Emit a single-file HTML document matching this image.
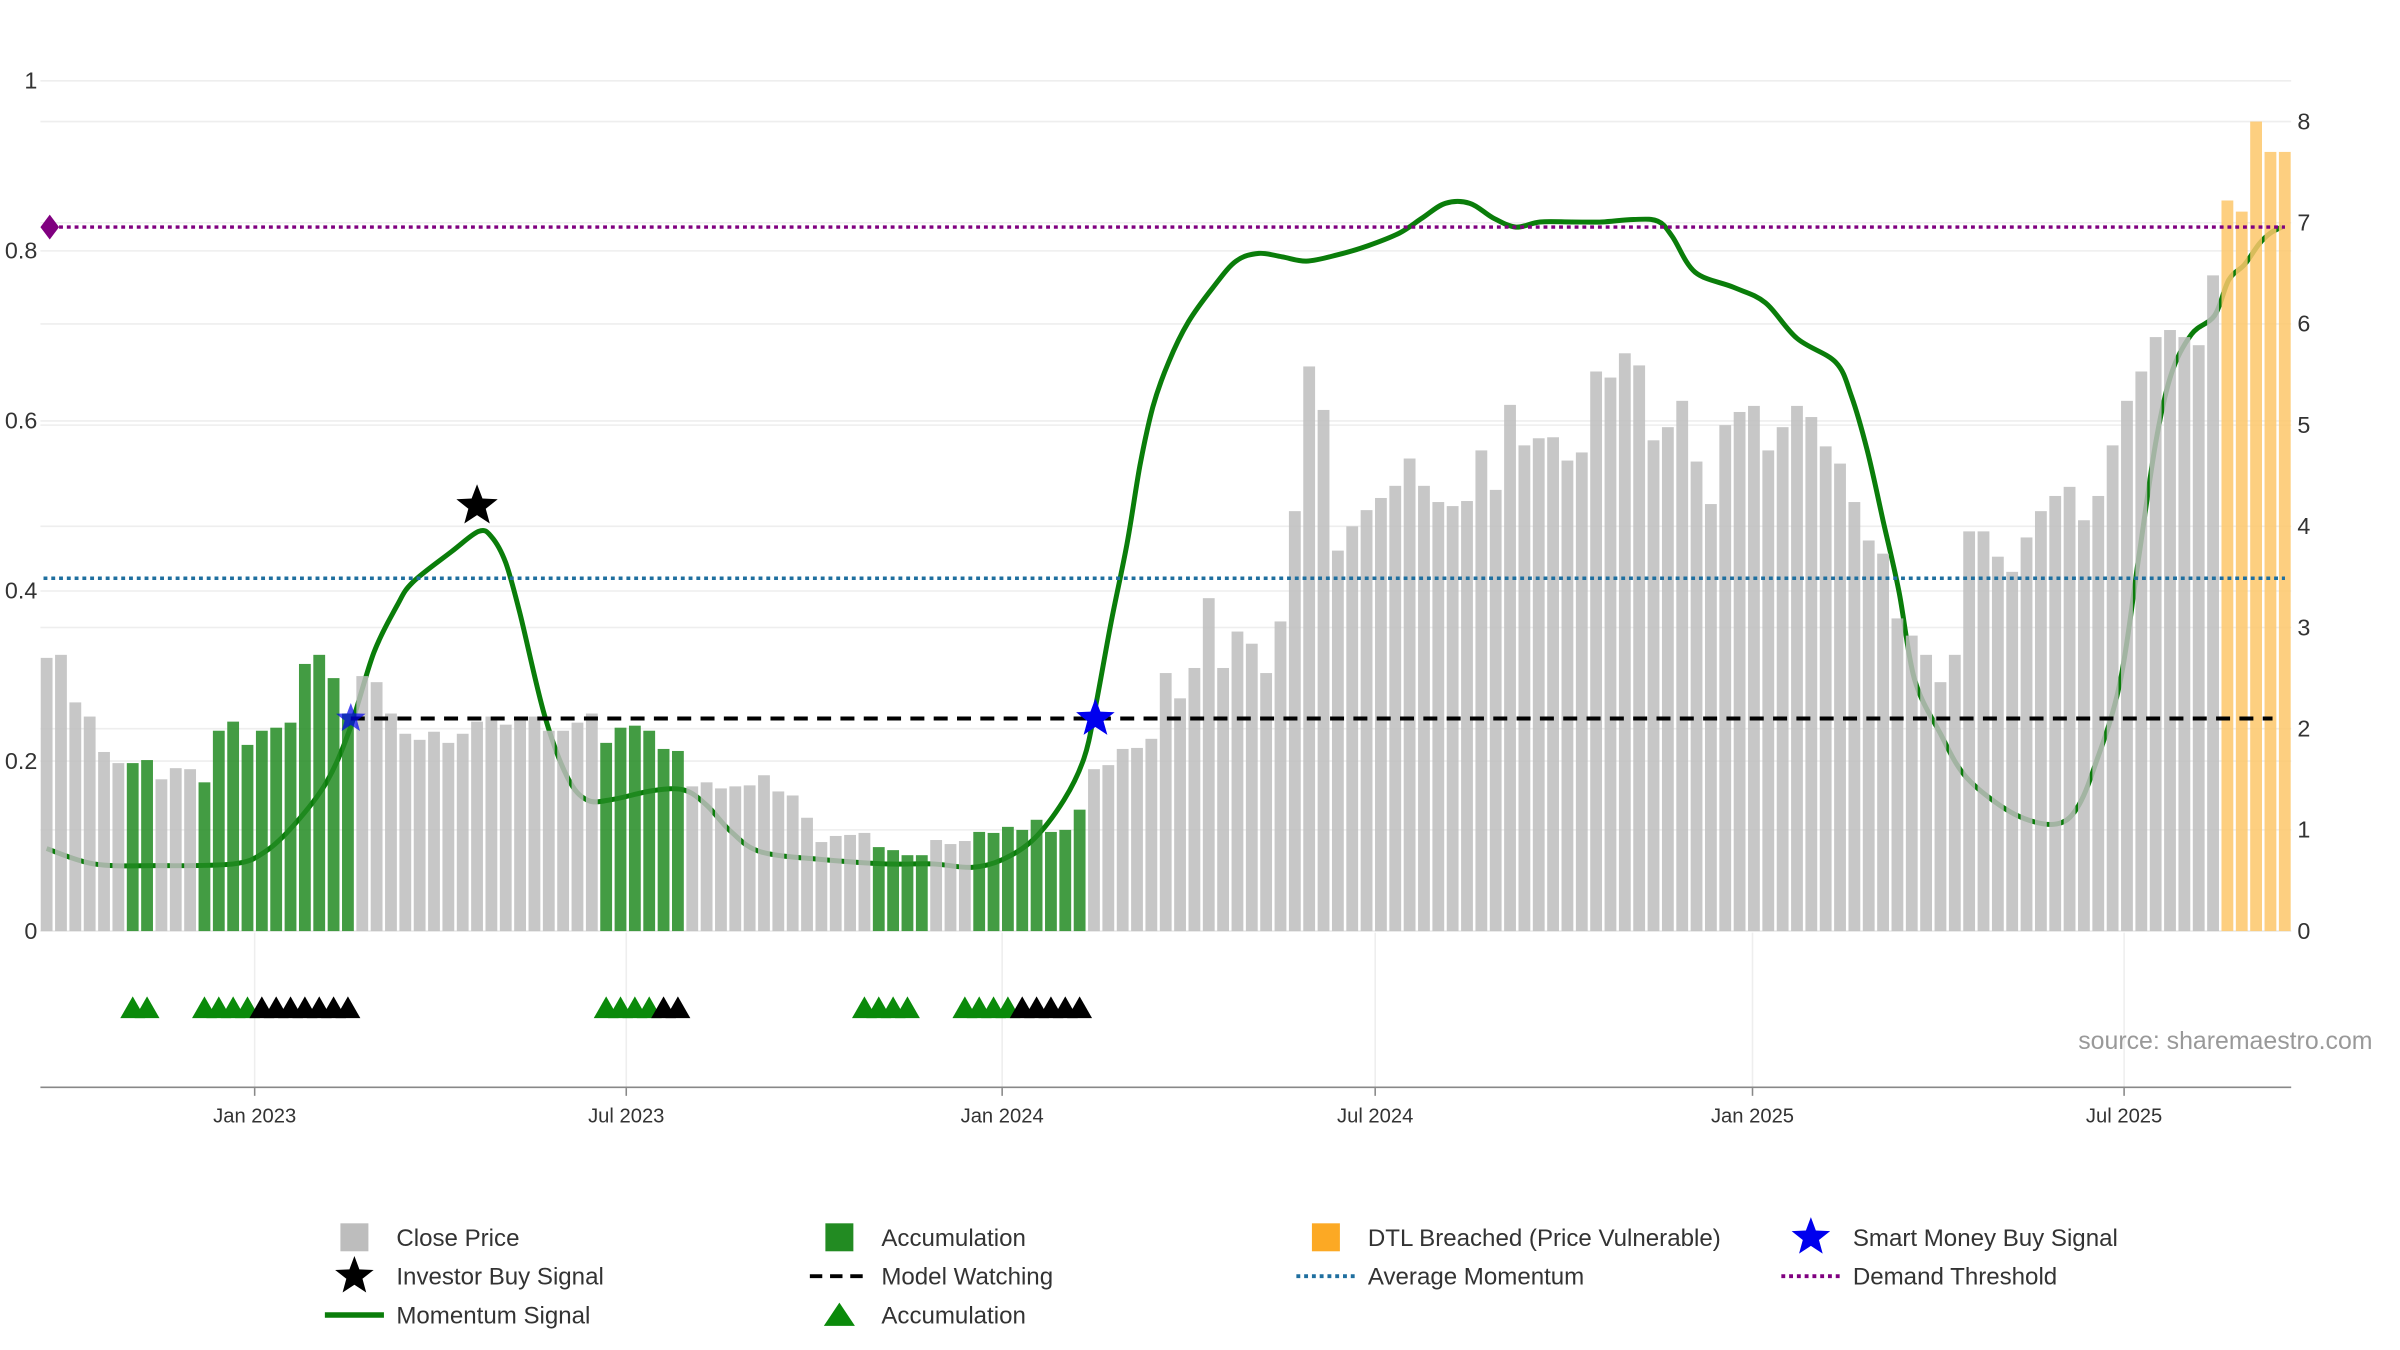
<!DOCTYPE html>
<html><head><meta charset="utf-8"><style>
html,body{margin:0;padding:0;background:#fff;}
svg{display:block;font-family:"Liberation Sans","DejaVu Sans",sans-serif;}
</style></head><body>
<svg id="chart" width="2400" height="1350" viewBox="0 0 1544 868.5" preserveAspectRatio="none" xmlns="http://www.w3.org/2000/svg">
<g id="grid"></g>
<g id="lines"></g>
<g id="bars"></g>
<g id="refs"></g>
<g id="marks"></g>
<g id="axes"></g>
<text x="1337" y="675" font-size="16" fill="#999">source: sharemaestro.com</text>
<g id="legend" font-size="15.5" fill="#333"></g>
</svg>
<script>
const prices=[2.7,2.73,2.26,2.12,1.77,1.66,1.66,1.69,1.5,1.61,1.6,1.47,1.98,2.07,1.84,1.98,2.01,2.06,2.64,2.73,2.5,2.15,2.52,2.46,2.15,1.95,1.89,1.97,1.86,1.95,2.07,2.12,2.04,2.09,2.12,1.98,1.98,2.06,2.15,1.86,2.01,2.03,1.98,1.8,1.78,1.43,1.47,1.41,1.43,1.44,1.54,1.38,1.34,1.12,0.88,0.94,0.95,0.97,0.83,0.8,0.75,0.75,0.9,0.86,0.89,0.98,0.97,1.03,1.0,1.1,0.98,1.0,1.2,1.6,1.64,1.8,1.81,1.9,2.55,2.3,2.6,3.29,2.6,2.96,2.84,2.55,3.06,4.15,5.58,5.15,3.76,4.0,4.16,4.28,4.4,4.67,4.4,4.24,4.2,4.25,4.75,4.36,5.2,4.8,4.87,4.88,4.65,4.73,5.53,5.47,5.71,5.59,4.85,4.98,5.24,4.64,4.22,5.0,5.13,5.19,4.75,4.98,5.19,5.08,4.79,4.62,4.24,3.86,3.73,3.09,2.92,2.73,2.46,2.73,3.95,3.95,3.7,3.55,3.89,4.15,4.3,4.39,4.06,4.3,4.8,5.24,5.53,5.87,5.94,5.87,5.79,6.48,7.22,7.11,8.0,7.7,7.7];
const accumBars=[6,7,11,12,13,14,15,16,17,18,19,20,21,39,40,41,42,43,44,58,59,60,61,65,66,67,68,69,70,71,72];
const breachedBars=[152,153,154,155,156];
const momIdx=[0,3.3,7.6,13,15.2,17.3,19.5,21.1,22.8,24.4,25.5,28.2,30.1,31,32,33,34.7,36.3,37.7,39.5,42.2,44.4,46,47.7,49.8,54.2,58.5,61.8,64.5,66.6,68.8,70.9,72.3,73.1,74.2,75.3,76.2,77.1,78.2,79.6,81.3,82.9,84.5,86.1,87.8,89.9,92.1,94.3,95.9,97.5,99.2,100.8,102.4,104.1,106.3,108.4,110.6,112.3,113.3,114.9,117.6,119.8,122,124.7,125.8,126.9,128,129.1,130.2,132,133.6,135.8,137.9,140.1,141.5,142.8,144.5,145.8,147,148.1,149.5,151.1,152.1,153.2,154.2,155,155.8];
const momVals=[0.097,0.079,0.077,0.079,0.093,0.126,0.175,0.236,0.327,0.382,0.41,0.446,0.47,0.464,0.433,0.373,0.254,0.181,0.154,0.155,0.165,0.166,0.148,0.117,0.093,0.084,0.079,0.079,0.075,0.084,0.108,0.154,0.203,0.263,0.364,0.455,0.547,0.616,0.669,0.717,0.757,0.788,0.797,0.793,0.788,0.795,0.806,0.821,0.839,0.856,0.856,0.839,0.828,0.834,0.834,0.834,0.837,0.835,0.817,0.775,0.757,0.739,0.697,0.669,0.629,0.565,0.483,0.4,0.296,0.232,0.185,0.152,0.132,0.126,0.144,0.196,0.291,0.437,0.574,0.656,0.702,0.724,0.766,0.784,0.808,0.821,0.828];
const greenTri=[6,7,11,12,13,14,39,40,41,42,57,58,59,60,64,65,66,67];
const blackTri=[15,16,17,18,19,20,21,43,44,68,69,70,71,72];
const investorStar=[{i:30.0,v:0.5}];
const smartStar=[{i:21.2,v:0.25},{i:73.1,v:0.25}];
const demandThreshold=0.828, avgMomentum=0.415, modelWatching=0.25;
const leftTicks=[0,0.2,0.4,0.6,0.8,1];
const rightTicks=[0,1,2,3,4,5,6,7,8];
const dateLabels=["Jan 2023","Jul 2023","Jan 2024","Jul 2024","Jan 2025","Jul 2025"];
const dateIdx=[14.5,40.4,66.6,92.6,118.9,144.8];

const NS="http://www.w3.org/2000/svg";
const X0=30,DX=9.23,Y0=599;
const xs=i=>X0+i*DX;
const yL=v=>Y0-v*547;
const yR=v=>Y0-v*65.1;
function el(p,tag,a){const e=document.createElementNS(NS,tag);for(const k in a)e.setAttribute(k,a[k]);p.appendChild(e);return e;}
function starPts(cx,cy,r){let s=[];for(let k=0;k<10;k++){const rr=k%2?r*0.42:r;const a=-Math.PI/2+k*Math.PI/5;s.push((cx+rr*Math.cos(a)).toFixed(1)+","+(cy+rr*Math.sin(a)).toFixed(1));}return s.join(" ");}
const G=id=>document.getElementById(id);

rightTicks.forEach(t=>{const l=el(G('grid'),'line',{x1:26,x2:1474,y1:yR(t),y2:yR(t),stroke:'#eee','stroke-width':1});

});
leftTicks.forEach(t=>{const l=el(G('grid'),'line',{x1:26,x2:1474,y1:yL(t),y2:yL(t),stroke:'#eee','stroke-width':1});

});
dateIdx.forEach(d=>{const l=el(G('grid'),'line',{x1:xs(d),x2:xs(d),y1:600,y2:699,stroke:'#eee','stroke-width':1});

});

const P=momIdx.map((i,k)=>[xs(i),yL(momVals[k])]);
let d='M'+P[0][0].toFixed(1)+','+P[0][1].toFixed(1);
for(let k=0;k<P.length-1;k++){const p0=P[Math.max(0,k-1)],p1=P[k],p2=P[k+1],p3=P[Math.min(P.length-1,k+2)];
const c1=[p1[0]+(p2[0]-p0[0])/6,p1[1]+(p2[1]-p0[1])/6],c2=[p2[0]-(p3[0]-p1[0])/6,p2[1]-(p3[1]-p1[1])/6];
d+=` C${c1[0].toFixed(1)},${c1[1].toFixed(1)} ${c2[0].toFixed(1)},${c2[1].toFixed(1)} ${p2[0].toFixed(1)},${p2[1].toFixed(1)}`;}
const ml=el(G('lines'),'path',{d:d,fill:'none',stroke:'#0a7d0a','stroke-width':3.2,'stroke-linejoin':'round'});



prices.forEach((p,i)=>{let c='#bdbdbd',nm='bar-close-price';
if(accumBars.includes(i)){c='#228b22';nm='bar-accumulation';}
if(breachedBars.includes(i)){c='#fdc76a';nm='bar-dtl-breached';}
const r=el(G('bars'),'rect',{x:xs(i)-3.8,y:yR(p),width:7.6,height:Y0-yR(p),fill:c,opacity:0.85});

});

let r1=el(G('refs'),'line',{x1:28,x2:1470,y1:yL(demandThreshold),y2:yL(demandThreshold),stroke:'#800080','stroke-width':2.2,'stroke-dasharray':'2.5 2.5'});


let dm=el(G('refs'),'polygon',{points:`26,${yL(demandThreshold)} 32,${yL(demandThreshold)-8} 38,${yL(demandThreshold)} 32,${yL(demandThreshold)+8}`,fill:'#800080'});


let r2=el(G('refs'),'line',{x1:28,x2:1470,y1:yL(avgMomentum),y2:yL(avgMomentum),stroke:'#1f6f9f','stroke-width':2.2,'stroke-dasharray':'2.5 2.5'});


let r3=el(G('refs'),'line',{x1:xs(21.2),x2:1462,y1:yL(modelWatching),y2:yL(modelWatching),stroke:'#000','stroke-width':2.6,'stroke-dasharray':'9 6'});



investorStar.forEach(s=>{const p=el(G('marks'),'polygon',{points:starPts(xs(s.i),yL(s.v),14),fill:'#000'});

});
smartStar.forEach((s,k)=>{const p=el(G('marks'),'polygon',{points:starPts(xs(s.i),yL(s.v),k?13:10),fill:'#0000ee',opacity:k?1:0.7});

});
function tri(i,c,nm){const cx=xs(i),cy=648;const p=el(G('marks'),'polygon',{points:`${cx-8},${cy+7} ${cx},${cy-7} ${cx+8},${cy+7}`,fill:c});

}
greenTri.forEach(i=>tri(i,'#0a8a0a','accumulation-triangle'));
blackTri.forEach(i=>tri(i,'#000','watch-triangle'));

const ax=G('axes');
let bl=el(ax,'line',{x1:26,x2:1474,y1:699.5,y2:699.5,stroke:'#888','stroke-width':1});


leftTicks.forEach(t=>{const tx=el(ax,'text',{x:24,y:yL(t)+5,'text-anchor':'end','font-size':15,fill:'#333'});tx.textContent=String(t);

});
rightTicks.forEach(t=>{const tx=el(ax,'text',{x:1478,y:yR(t)+5,'font-size':15,fill:'#333'});tx.textContent=String(t);

});
dateLabels.forEach((l,k)=>{const tx=el(ax,'text',{x:xs(dateIdx[k]),y:722,'text-anchor':'middle','font-size':13,fill:'#333'});tx.textContent=l;


const tk=el(ax,'line',{x1:xs(dateIdx[k]),x2:xs(dateIdx[k]),y1:700,y2:705,stroke:'#888'});

});

const lg=G('legend');
const entries=[
[228,796,'sq','#bdbdbd','Close Price'],[540,796,'sq','#228b22','Accumulation'],[853,796,'sq','#fca924','DTL Breached (Price Vulnerable)'],[1165,796,'star','#0000ee','Smart Money Buy Signal'],
[228,821,'star','#000','Investor Buy Signal'],[540,821,'dash','#000','Model Watching'],[853,821,'dot','#1f6f9f','Average Momentum'],[1165,821,'dot','#800080','Demand Threshold'],
[228,846,'line','#0a7d0a','Momentum Signal'],[540,846,'tri','#0a8a0a','Accumulation']];
entries.forEach(e=>{const [x,y,t,c,label]=e;const g=el(lg,'g',{});


if(t==='sq')el(g,'rect',{x:x-9,y:y-9,width:18,height:18,fill:c});
if(t==='star')el(g,'polygon',{points:starPts(x,y,13),fill:c});
if(t==='dash')el(g,'line',{x1:x-19,x2:x+19,y1:y,y2:y,stroke:c,'stroke-width':2.5,'stroke-dasharray':'8 5'});
if(t==='dot')el(g,'line',{x1:x-19,x2:x+19,y1:y,y2:y,stroke:c,'stroke-width':2.5,'stroke-dasharray':'2.5 2.5'});
if(t==='line')el(g,'line',{x1:x-19,x2:x+19,y1:y,y2:y,stroke:c,'stroke-width':3.5});
if(t==='tri')el(g,'polygon',{points:`${x-10},${y+7} ${x},${y-8} ${x+10},${y+7}`,fill:c});
const tx=el(g,'text',{x:x+27,y:y+5.5});tx.textContent=label;});
</script>
</body></html>
